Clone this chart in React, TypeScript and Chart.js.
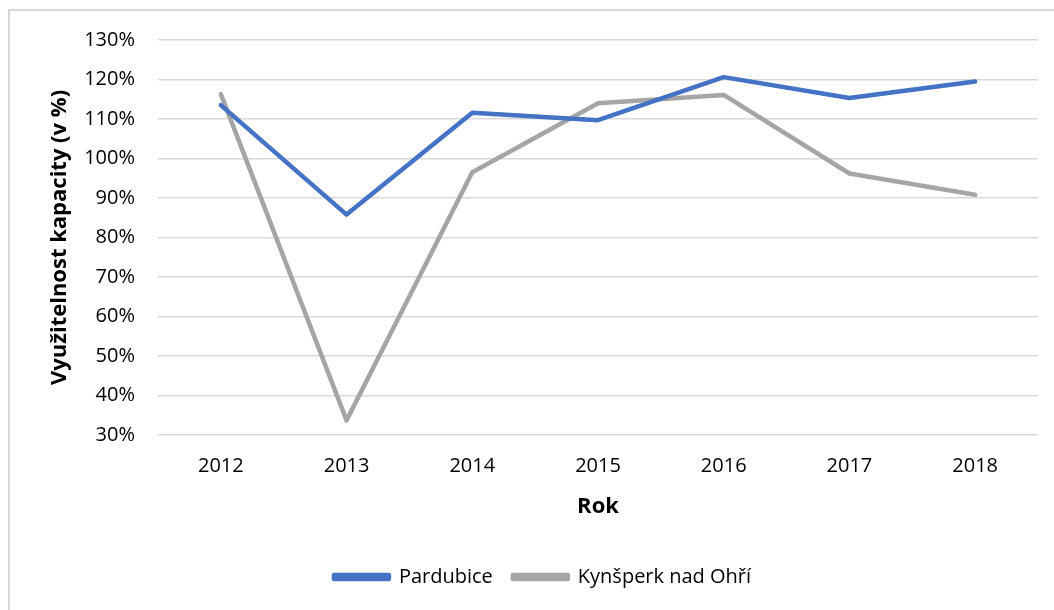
import React, { useEffect, useRef } from "react";
import { Chart, registerables } from "chart.js";

Chart.register(...registerables);

const years = ["2012", "2013", "2014", "2015", "2016", "2017", "2018"];
const pardubice = [113.5, 85.8, 111.6, 109.7, 120.6, 115.3, 119.5];
const kynsperk = [116.3, 33.7, 96.5, 114.0, 116.1, 96.2, 90.8];
const seriesNames = ["Pardubice", "Kynšperk nad Ohří"];
const yTitle = "Využitelnost kapacity (v %)";
const xTitle = "Rok";

const FONT = "'Open Sans', sans-serif";

export default function App() {
  const ref = useRef<HTMLCanvasElement>(null);
  useEffect(() => {
    if (!ref.current) return;
    const chart = new Chart(ref.current, {
      type: "line",
      data: {
        labels: years,
        datasets: [
          {
            label: seriesNames[0],
            data: pardubice,
            borderColor: "#4472C4",
            backgroundColor: "#4472C4",
            borderWidth: 4.5,
            pointRadius: 0,
            tension: 0,
            borderCapStyle: "round",
            borderJoinStyle: "round",
          },
          {
            label: seriesNames[1],
            data: kynsperk,
            borderColor: "#A5A5A5",
            backgroundColor: "#A5A5A5",
            borderWidth: 4.5,
            pointRadius: 0,
            tension: 0,
            borderCapStyle: "round",
            borderJoinStyle: "round",
          },
        ],
      },
      options: {
        animation: false,
        responsive: false,
        maintainAspectRatio: false,
        layout: { padding: { left: 47, right: 16, top: 40, bottom: 13 } },
        plugins: {
          tooltip: { enabled: false },
          legend: {
            position: "bottom",
            labels: {
              boxWidth: 55,
              boxHeight: 4,
              padding: 20,
              color: "#000",
              font: { family: FONT, size: 20 },
            },
          },
        },
        scales: {
          x: {
            offset: true,
            grid: { display: false, drawTicks: false },
            border: { display: false },
            ticks: { color: "#000", font: { family: FONT, size: 20 }, padding: 19, maxRotation: 0 },
            title: {
              display: true,
              text: xTitle,
              color: "#000",
              font: { family: FONT, size: 22, weight: "bold" },
              padding: { top: 27, bottom: 27 },
            },
            afterFit: (scale: any) => {
              scale.height = 112;
            },
          },
          y: {
            min: 30,
            max: 130,
            grid: { color: "#d9d9d9", lineWidth: 1.5, drawTicks: false },
            border: { display: false },
            ticks: {
              stepSize: 10,
              color: "#000",
              font: { family: FONT, size: 20 },
              padding: 23,
              callback: (v: any) => v + "%",
            },
            title: {
              display: true,
              text: yTitle,
              color: "#000",
              font: { family: FONT, size: 22, weight: "bold" },
              padding: { top: 0, bottom: 0 },
            },
            afterFit: (scale: any) => {
              scale.width = 111;
            },
          },
        },
      },
    });
    return () => chart.destroy();
  }, []);
  return (
    <div style={{ position: "fixed", left: 0, top: 0, width: 1054, height: 610, overflow: "hidden", background: "#fff" }}>
      <div
        style={{
          position: "absolute",
          left: 8,
          top: 9,
          width: 1200,
          height: 700,
          borderLeft: "2px solid #d9d9d9",
          borderTop: "2px solid #d9d9d9",
        }}
      />
      <canvas ref={ref} width={1054} height={610} style={{ position: "absolute", left: 0, top: 0 }} />
    </div>
  );
}
